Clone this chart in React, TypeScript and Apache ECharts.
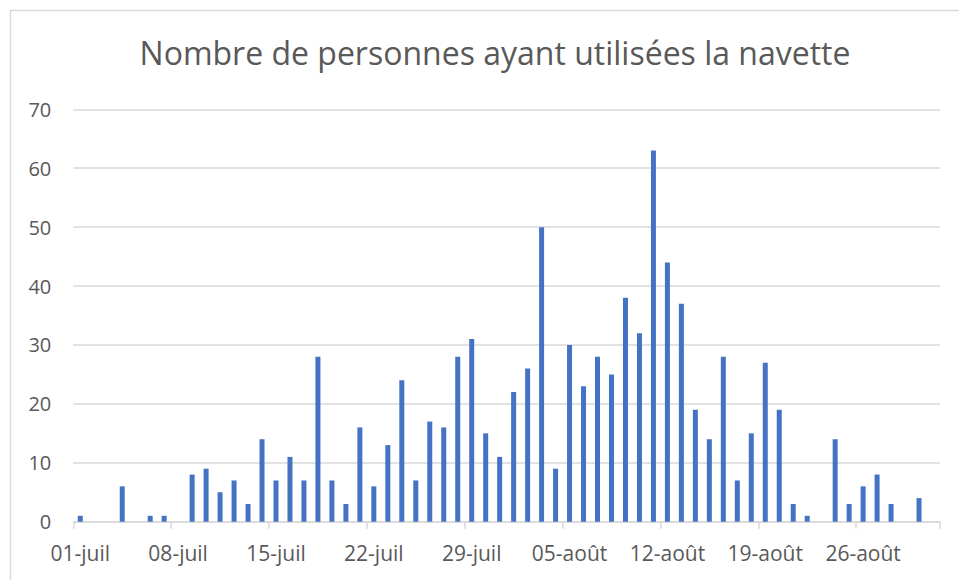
import React, { useEffect, useRef } from "react";
import * as echarts from "echarts";

const categories: string[] = [
  "01-juil", "02-juil", "03-juil", "04-juil", "05-juil", "06-juil", "07-juil",
  "08-juil", "09-juil", "10-juil", "11-juil", "12-juil", "13-juil", "14-juil",
  "15-juil", "16-juil", "17-juil", "18-juil", "19-juil", "20-juil", "21-juil",
  "22-juil", "23-juil", "24-juil", "25-juil", "26-juil", "27-juil", "28-juil",
  "29-juil", "30-juil", "31-juil", "01-août", "02-août", "03-août", "04-août",
  "05-août", "06-août", "07-août", "08-août", "09-août", "10-août", "11-août",
  "12-août", "13-août", "14-août", "15-août", "16-août", "17-août", "18-août",
  "19-août", "20-août", "21-août", "22-août", "23-août", "24-août", "25-août",
  "26-août", "27-août", "28-août", "29-août", "30-août", "31-août",
];

const personnes: number[] = [
  1, 0, 0, 6, 0, 1, 1,
  0, 8, 9, 5, 7, 3, 14,
  7, 11, 7, 28, 7, 3, 16,
  6, 13, 24, 7, 17, 16, 28,
  31, 15, 11, 22, 26, 50, 9,
  30, 23, 28, 25, 38, 32, 63,
  44, 37, 19, 14, 28, 7, 15,
  27, 19, 3, 1, 0, 14, 3,
  6, 8, 3, 0, 4, 0,
];

const titleText = "Nombre de personnes ayant utilisées la navette";
const yMin = 0;
const yMax = 70;
const yStep = 10;

export default function App() {
  const ref = useRef<HTMLDivElement>(null);
  useEffect(() => {
    if (!ref.current) return;
    const chart = echarts.init(ref.current, undefined, { renderer: "svg" });
    const font = "'Open Sans', 'Noto Sans', sans-serif";
    chart.setOption({
      animation: false,
      backgroundColor: "#ffffff",
      title: {
        text: titleText,
        left: 490,
        textAlign: "center",
        top: 31,
        textStyle: {
          fontFamily: font,
          fontSize: 32,
          fontWeight: "normal",
          color: "#595959",
        },
      },
      graphic: [
        {
          type: "rect",
          shape: { x: 10.5, y: 10.5, width: 980, height: 600 },
          style: { fill: "none", stroke: "#d9d9d9", lineWidth: 1.5 },
          silent: true,
        },
      ],
      grid: { left: 73.3, right: 19, top: 109.3, bottom: 58.3, containLabel: false },
      xAxis: {
        type: "category",
        data: categories,
        boundaryGap: true,
        axisLine: { show: true, lineStyle: { color: "#d9d9d9", width: 1.5 } },
        axisTick: { show: true, interval: 6, length: 7, lineStyle: { color: "#d9d9d9", width: 1.5 } },
        axisLabel: {
          interval: 6,
          margin: 21,
          fontFamily: font,
          fontSize: 21,
          color: "#595959",
        },
        splitLine: { show: false },
      },
      yAxis: {
        type: "value",
        min: yMin,
        max: yMax,
        interval: yStep,
        axisLine: { show: false },
        axisTick: { show: false },
        axisLabel: {
          margin: 22,
          fontFamily: font,
          fontSize: 20,
          color: "#595959",
        },
        splitLine: { lineStyle: { color: "#d9d9d9", width: 1.5 } },
      },
      series: [
        {
          type: "bar",
          data: personnes,
          barWidth: 5,
          itemStyle: { color: "#4472c4" },
        },
      ],
    });
    return () => chart.dispose();
  }, []);
  return (
    <div
      ref={ref}
      style={{ position: "absolute", left: 0, top: 0, width: 959, height: 580 }}
    />
  );
}
